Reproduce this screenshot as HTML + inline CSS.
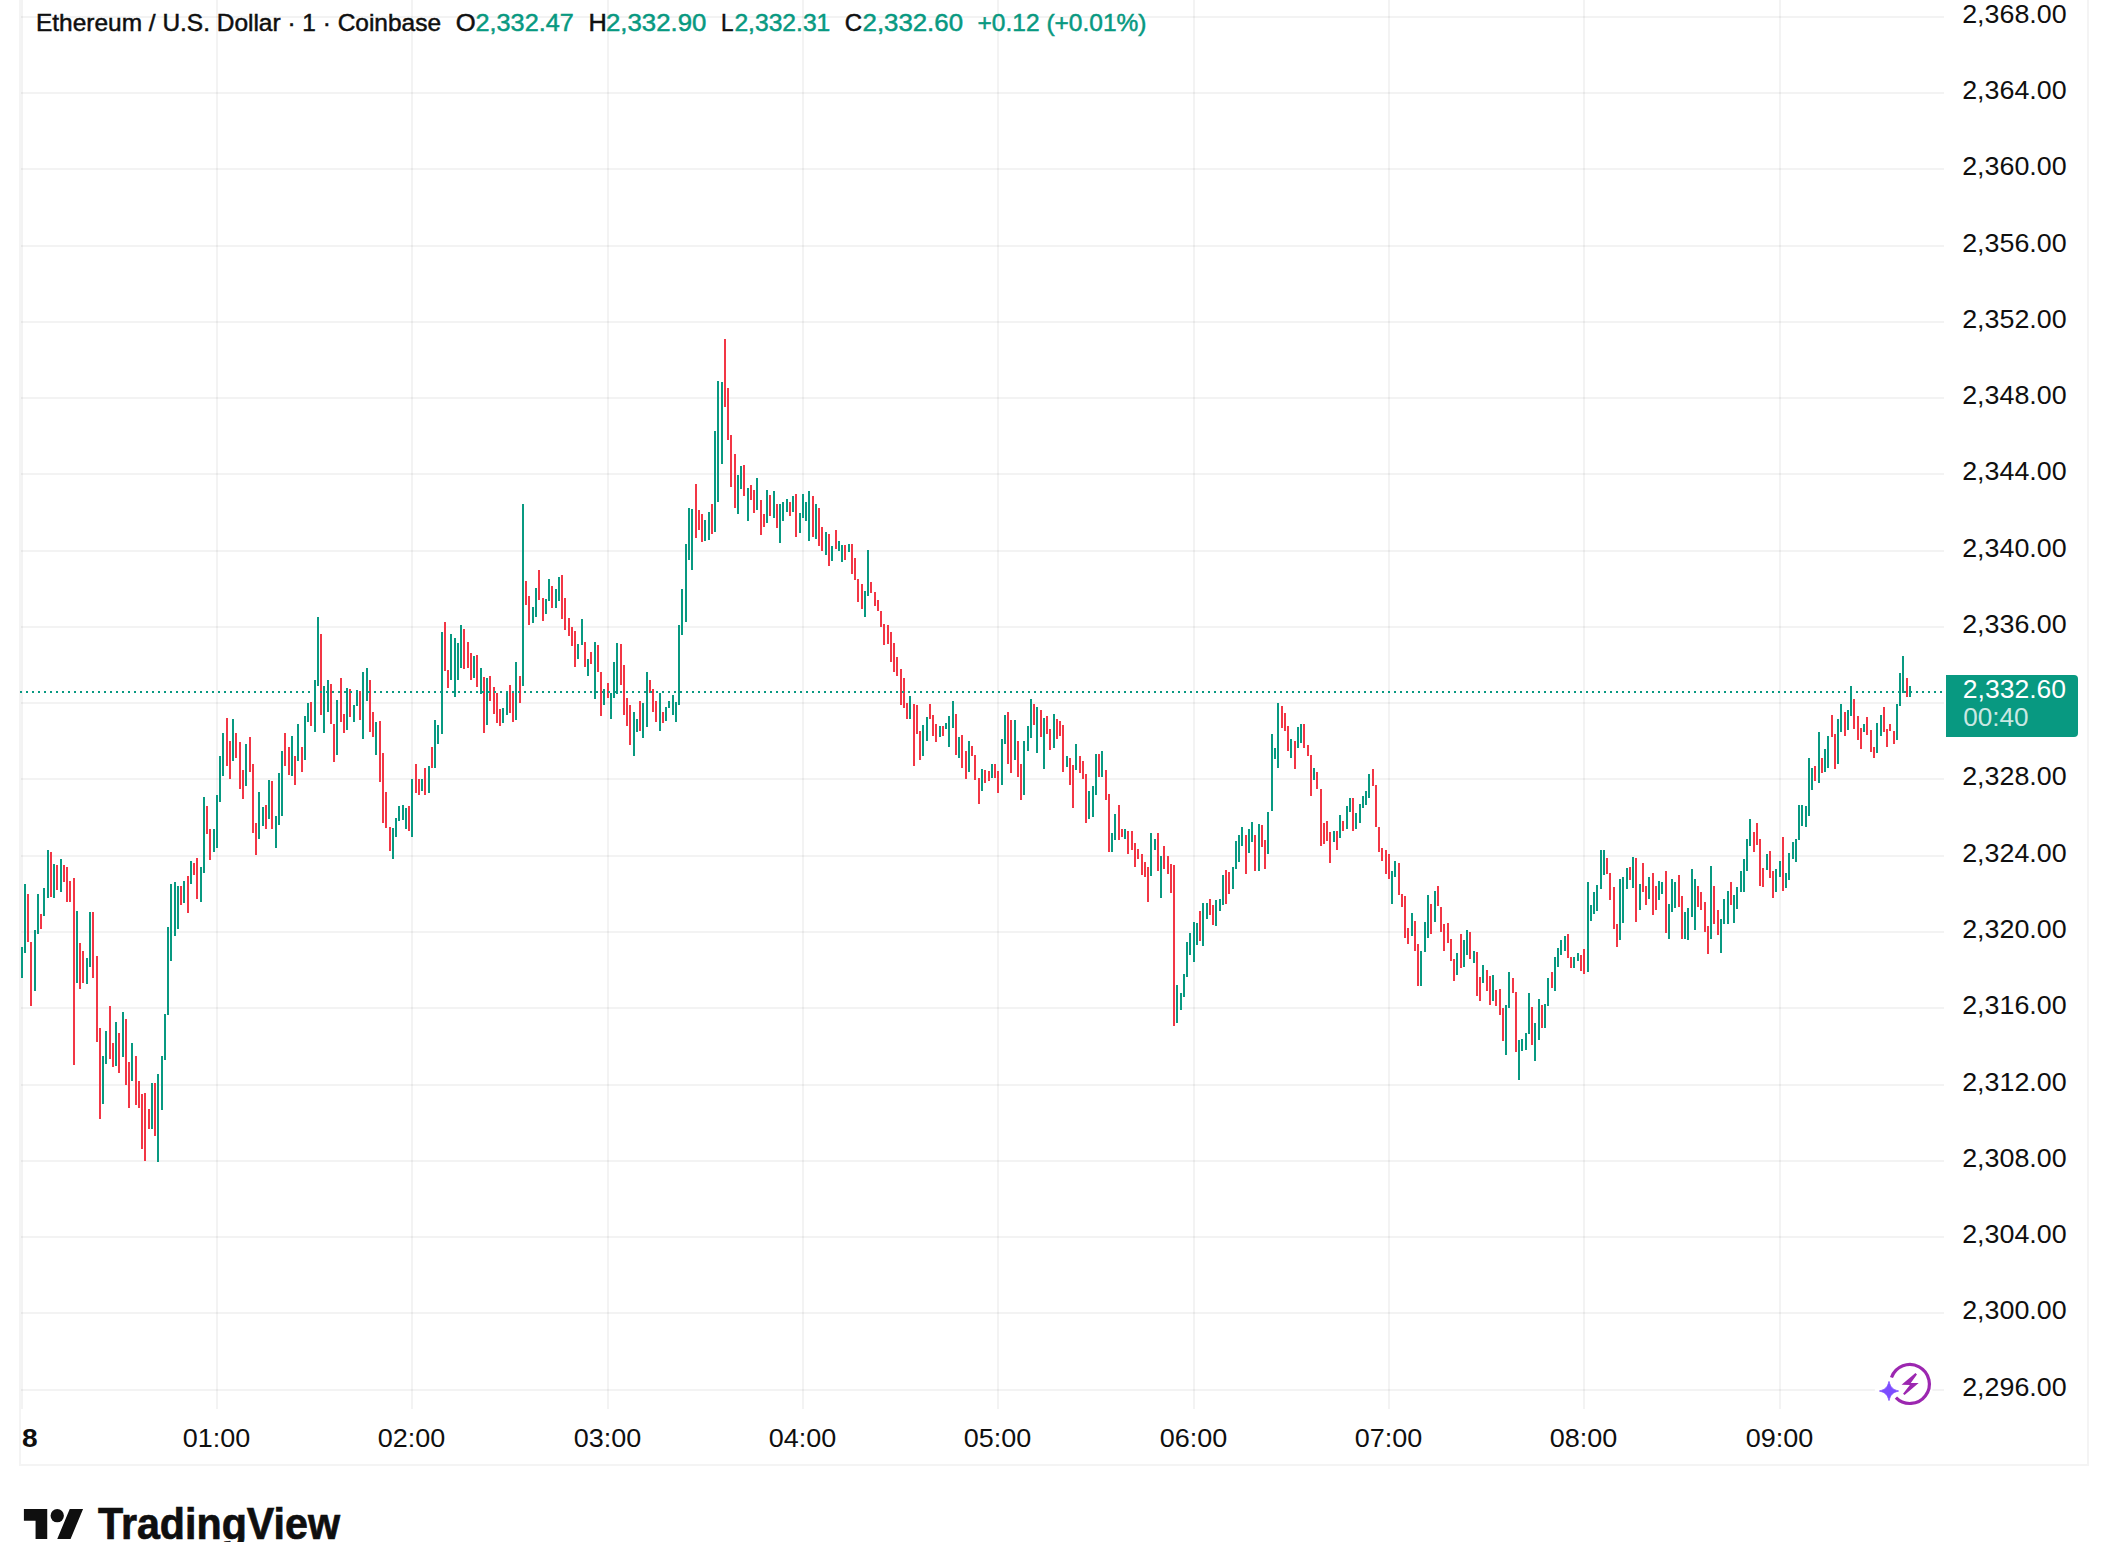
<!DOCTYPE html><html><head><meta charset="utf-8"><title>ETHUSD</title><style>html,body{margin:0;padding:0;background:#fff;width:2108px;height:1542px;overflow:hidden}</style></head><body><svg width="2108" height="1542" viewBox="0 0 2108 1542" style="display:block;position:absolute;left:0;top:0">
<rect width="2108" height="1542" fill="#fff"/>
<g fill="#2e2e2e" fill-opacity="0.06"><rect x="21" y="0" width="2" height="1409"/><rect x="216" y="0" width="2" height="1409"/><rect x="411" y="0" width="2" height="1409"/><rect x="607" y="0" width="2" height="1409"/><rect x="802" y="0" width="2" height="1409"/><rect x="997" y="0" width="2" height="1409"/><rect x="1193" y="0" width="2" height="1409"/><rect x="1388" y="0" width="2" height="1409"/><rect x="1583" y="0" width="2" height="1409"/><rect x="1779" y="0" width="2" height="1409"/><rect x="20" y="16" width="1924" height="2"/><rect x="20" y="92" width="1924" height="2"/><rect x="20" y="168" width="1924" height="2"/><rect x="20" y="245" width="1924" height="2"/><rect x="20" y="321" width="1924" height="2"/><rect x="20" y="397" width="1924" height="2"/><rect x="20" y="473" width="1924" height="2"/><rect x="20" y="550" width="1924" height="2"/><rect x="20" y="626" width="1924" height="2"/><rect x="20" y="702" width="1924" height="2"/><rect x="20" y="778" width="1924" height="2"/><rect x="20" y="855" width="1924" height="2"/><rect x="20" y="931" width="1924" height="2"/><rect x="20" y="1007" width="1924" height="2"/><rect x="20" y="1084" width="1924" height="2"/><rect x="20" y="1160" width="1924" height="2"/><rect x="20" y="1236" width="1924" height="2"/><rect x="20" y="1312" width="1924" height="2"/><rect x="20" y="1389" width="1924" height="2"/></g>
<g fill="#f4f4f4"><rect x="19" y="0" width="2" height="1466"/><rect x="2087" y="0" width="2" height="1466"/><rect x="19" y="1464" width="2070" height="2"/></g>
<g fill="#089981"><rect x="21" y="947" width="2" height="31"/><rect x="24" y="884" width="2" height="69"/><rect x="34" y="930" width="2" height="61"/><rect x="37" y="894" width="2" height="40"/><rect x="43" y="888" width="2" height="28"/><rect x="47" y="850" width="2" height="48"/><rect x="53" y="864" width="2" height="34"/><rect x="60" y="859" width="2" height="33"/><rect x="76" y="911" width="2" height="72"/><rect x="86" y="958" width="2" height="26"/><rect x="89" y="912" width="2" height="55"/><rect x="102" y="1056" width="2" height="48"/><rect x="105" y="1031" width="2" height="33"/><rect x="115" y="1022" width="2" height="44"/><rect x="122" y="1012" width="2" height="45"/><rect x="131" y="1043" width="2" height="38"/><rect x="151" y="1083" width="2" height="46"/><rect x="157" y="1074" width="2" height="88"/><rect x="161" y="1056" width="2" height="54"/><rect x="164" y="1014" width="2" height="46"/><rect x="167" y="927" width="2" height="88"/><rect x="170" y="884" width="2" height="77"/><rect x="174" y="882" width="2" height="54"/><rect x="177" y="886" width="2" height="43"/><rect x="183" y="881" width="2" height="22"/><rect x="190" y="861" width="2" height="23"/><rect x="200" y="867" width="2" height="35"/><rect x="203" y="797" width="2" height="76"/><rect x="213" y="829" width="2" height="23"/><rect x="216" y="795" width="2" height="53"/><rect x="219" y="756" width="2" height="46"/><rect x="222" y="733" width="2" height="43"/><rect x="232" y="719" width="2" height="42"/><rect x="245" y="744" width="2" height="42"/><rect x="258" y="792" width="2" height="47"/><rect x="262" y="807" width="2" height="19"/><rect x="268" y="780" width="2" height="39"/><rect x="275" y="816" width="2" height="32"/><rect x="278" y="773" width="2" height="52"/><rect x="281" y="751" width="2" height="65"/><rect x="291" y="736" width="2" height="40"/><rect x="297" y="724" width="2" height="37"/><rect x="304" y="716" width="2" height="44"/><rect x="307" y="703" width="2" height="19"/><rect x="314" y="680" width="2" height="52"/><rect x="317" y="617" width="2" height="69"/><rect x="323" y="686" width="2" height="47"/><rect x="327" y="680" width="2" height="32"/><rect x="336" y="700" width="2" height="55"/><rect x="346" y="688" width="2" height="42"/><rect x="353" y="705" width="2" height="17"/><rect x="356" y="690" width="2" height="16"/><rect x="362" y="672" width="2" height="67"/><rect x="366" y="668" width="2" height="33"/><rect x="375" y="722" width="2" height="33"/><rect x="392" y="828" width="2" height="31"/><rect x="395" y="818" width="2" height="19"/><rect x="398" y="806" width="2" height="15"/><rect x="402" y="805" width="2" height="15"/><rect x="405" y="808" width="2" height="21"/><rect x="411" y="779" width="2" height="58"/><rect x="421" y="779" width="2" height="12"/><rect x="428" y="766" width="2" height="27"/><rect x="434" y="720" width="2" height="48"/><rect x="437" y="725" width="2" height="19"/><rect x="441" y="632" width="2" height="102"/><rect x="450" y="634" width="2" height="46"/><rect x="454" y="638" width="2" height="59"/><rect x="457" y="643" width="2" height="37"/><rect x="460" y="625" width="2" height="43"/><rect x="473" y="656" width="2" height="22"/><rect x="480" y="668" width="2" height="26"/><rect x="486" y="678" width="2" height="47"/><rect x="502" y="708" width="2" height="15"/><rect x="506" y="691" width="2" height="24"/><rect x="515" y="662" width="2" height="58"/><rect x="522" y="504" width="2" height="182"/><rect x="532" y="607" width="2" height="16"/><rect x="535" y="588" width="2" height="29"/><rect x="545" y="599" width="2" height="15"/><rect x="548" y="579" width="2" height="22"/><rect x="555" y="589" width="2" height="19"/><rect x="558" y="577" width="2" height="24"/><rect x="577" y="644" width="2" height="15"/><rect x="581" y="619" width="2" height="26"/><rect x="587" y="659" width="2" height="17"/><rect x="594" y="642" width="2" height="57"/><rect x="603" y="689" width="2" height="16"/><rect x="610" y="693" width="2" height="26"/><rect x="613" y="662" width="2" height="36"/><rect x="616" y="643" width="2" height="51"/><rect x="633" y="712" width="2" height="44"/><rect x="636" y="719" width="2" height="13"/><rect x="642" y="703" width="2" height="35"/><rect x="646" y="672" width="2" height="55"/><rect x="659" y="693" width="2" height="38"/><rect x="665" y="707" width="2" height="14"/><rect x="668" y="701" width="2" height="7"/><rect x="672" y="695" width="2" height="20"/><rect x="675" y="702" width="2" height="20"/><rect x="678" y="625" width="2" height="80"/><rect x="681" y="589" width="2" height="46"/><rect x="685" y="544" width="2" height="78"/><rect x="688" y="508" width="2" height="52"/><rect x="691" y="509" width="2" height="61"/><rect x="704" y="520" width="2" height="21"/><rect x="708" y="512" width="2" height="28"/><rect x="714" y="431" width="2" height="101"/><rect x="717" y="381" width="2" height="121"/><rect x="721" y="382" width="2" height="82"/><rect x="737" y="475" width="2" height="39"/><rect x="740" y="466" width="2" height="23"/><rect x="747" y="488" width="2" height="33"/><rect x="756" y="478" width="2" height="32"/><rect x="766" y="490" width="2" height="33"/><rect x="773" y="491" width="2" height="27"/><rect x="779" y="504" width="2" height="39"/><rect x="782" y="502" width="2" height="19"/><rect x="786" y="499" width="2" height="13"/><rect x="792" y="496" width="2" height="16"/><rect x="799" y="513" width="2" height="20"/><rect x="802" y="494" width="2" height="24"/><rect x="805" y="502" width="2" height="19"/><rect x="808" y="491" width="2" height="50"/><rect x="815" y="504" width="2" height="35"/><rect x="825" y="532" width="2" height="23"/><rect x="831" y="546" width="2" height="15"/><rect x="838" y="541" width="2" height="10"/><rect x="841" y="545" width="2" height="17"/><rect x="848" y="544" width="2" height="8"/><rect x="864" y="591" width="2" height="26"/><rect x="867" y="550" width="2" height="46"/><rect x="909" y="696" width="2" height="23"/><rect x="922" y="725" width="2" height="31"/><rect x="926" y="717" width="2" height="24"/><rect x="939" y="726" width="2" height="11"/><rect x="945" y="723" width="2" height="6"/><rect x="948" y="716" width="2" height="31"/><rect x="952" y="701" width="2" height="27"/><rect x="958" y="737" width="2" height="21"/><rect x="968" y="741" width="2" height="31"/><rect x="981" y="769" width="2" height="22"/><rect x="991" y="764" width="2" height="14"/><rect x="1001" y="739" width="2" height="46"/><rect x="1004" y="715" width="2" height="29"/><rect x="1014" y="720" width="2" height="40"/><rect x="1023" y="741" width="2" height="54"/><rect x="1027" y="726" width="2" height="25"/><rect x="1030" y="699" width="2" height="39"/><rect x="1036" y="707" width="2" height="46"/><rect x="1043" y="718" width="2" height="51"/><rect x="1053" y="714" width="2" height="34"/><rect x="1066" y="756" width="2" height="11"/><rect x="1075" y="744" width="2" height="26"/><rect x="1088" y="791" width="2" height="28"/><rect x="1092" y="786" width="2" height="31"/><rect x="1095" y="754" width="2" height="41"/><rect x="1101" y="751" width="2" height="26"/><rect x="1111" y="833" width="2" height="19"/><rect x="1114" y="814" width="2" height="26"/><rect x="1124" y="829" width="2" height="10"/><rect x="1150" y="833" width="2" height="43"/><rect x="1154" y="839" width="2" height="11"/><rect x="1160" y="856" width="2" height="42"/><rect x="1176" y="985" width="2" height="38"/><rect x="1180" y="993" width="2" height="17"/><rect x="1183" y="974" width="2" height="23"/><rect x="1186" y="942" width="2" height="35"/><rect x="1189" y="933" width="2" height="22"/><rect x="1193" y="922" width="2" height="40"/><rect x="1196" y="923" width="2" height="22"/><rect x="1202" y="903" width="2" height="43"/><rect x="1206" y="903" width="2" height="16"/><rect x="1215" y="900" width="2" height="26"/><rect x="1219" y="899" width="2" height="12"/><rect x="1222" y="875" width="2" height="30"/><rect x="1232" y="867" width="2" height="22"/><rect x="1235" y="841" width="2" height="28"/><rect x="1238" y="835" width="2" height="27"/><rect x="1241" y="827" width="2" height="19"/><rect x="1248" y="829" width="2" height="24"/><rect x="1251" y="822" width="2" height="20"/><rect x="1258" y="824" width="2" height="47"/><rect x="1267" y="812" width="2" height="42"/><rect x="1271" y="734" width="2" height="77"/><rect x="1274" y="748" width="2" height="11"/><rect x="1277" y="703" width="2" height="65"/><rect x="1290" y="739" width="2" height="19"/><rect x="1297" y="727" width="2" height="21"/><rect x="1300" y="724" width="2" height="19"/><rect x="1313" y="768" width="2" height="12"/><rect x="1333" y="831" width="2" height="11"/><rect x="1339" y="815" width="2" height="23"/><rect x="1346" y="806" width="2" height="23"/><rect x="1349" y="798" width="2" height="14"/><rect x="1355" y="813" width="2" height="16"/><rect x="1359" y="804" width="2" height="19"/><rect x="1362" y="796" width="2" height="12"/><rect x="1365" y="791" width="2" height="14"/><rect x="1368" y="774" width="2" height="24"/><rect x="1391" y="871" width="2" height="33"/><rect x="1394" y="861" width="2" height="16"/><rect x="1411" y="913" width="2" height="23"/><rect x="1420" y="951" width="2" height="35"/><rect x="1424" y="922" width="2" height="30"/><rect x="1427" y="895" width="2" height="43"/><rect x="1434" y="891" width="2" height="31"/><rect x="1456" y="953" width="2" height="22"/><rect x="1463" y="940" width="2" height="27"/><rect x="1466" y="930" width="2" height="25"/><rect x="1473" y="951" width="2" height="12"/><rect x="1482" y="965" width="2" height="18"/><rect x="1492" y="975" width="2" height="26"/><rect x="1505" y="1005" width="2" height="50"/><rect x="1508" y="972" width="2" height="36"/><rect x="1518" y="1040" width="2" height="40"/><rect x="1521" y="1039" width="2" height="12"/><rect x="1525" y="1033" width="2" height="17"/><rect x="1528" y="993" width="2" height="41"/><rect x="1534" y="1023" width="2" height="38"/><rect x="1538" y="999" width="2" height="41"/><rect x="1544" y="1004" width="2" height="24"/><rect x="1547" y="978" width="2" height="28"/><rect x="1554" y="957" width="2" height="34"/><rect x="1557" y="948" width="2" height="19"/><rect x="1560" y="940" width="2" height="15"/><rect x="1564" y="936" width="2" height="15"/><rect x="1573" y="957" width="2" height="11"/><rect x="1577" y="953" width="2" height="8"/><rect x="1587" y="882" width="2" height="90"/><rect x="1590" y="905" width="2" height="16"/><rect x="1593" y="892" width="2" height="22"/><rect x="1596" y="885" width="2" height="26"/><rect x="1600" y="850" width="2" height="39"/><rect x="1603" y="850" width="2" height="25"/><rect x="1619" y="879" width="2" height="61"/><rect x="1622" y="877" width="2" height="46"/><rect x="1626" y="868" width="2" height="21"/><rect x="1632" y="857" width="2" height="31"/><rect x="1639" y="884" width="2" height="26"/><rect x="1648" y="877" width="2" height="22"/><rect x="1658" y="881" width="2" height="19"/><rect x="1661" y="882" width="2" height="12"/><rect x="1668" y="904" width="2" height="35"/><rect x="1671" y="879" width="2" height="33"/><rect x="1674" y="882" width="2" height="26"/><rect x="1684" y="912" width="2" height="27"/><rect x="1687" y="908" width="2" height="32"/><rect x="1691" y="869" width="2" height="48"/><rect x="1694" y="879" width="2" height="51"/><rect x="1710" y="866" width="2" height="73"/><rect x="1720" y="919" width="2" height="34"/><rect x="1723" y="899" width="2" height="25"/><rect x="1727" y="891" width="2" height="33"/><rect x="1733" y="895" width="2" height="28"/><rect x="1736" y="887" width="2" height="22"/><rect x="1740" y="871" width="2" height="21"/><rect x="1743" y="859" width="2" height="33"/><rect x="1746" y="839" width="2" height="32"/><rect x="1749" y="819" width="2" height="27"/><rect x="1766" y="854" width="2" height="16"/><rect x="1775" y="869" width="2" height="23"/><rect x="1779" y="861" width="2" height="16"/><rect x="1785" y="873" width="2" height="15"/><rect x="1788" y="853" width="2" height="27"/><rect x="1792" y="842" width="2" height="17"/><rect x="1795" y="839" width="2" height="23"/><rect x="1798" y="805" width="2" height="35"/><rect x="1801" y="805" width="2" height="21"/><rect x="1805" y="806" width="2" height="21"/><rect x="1808" y="758" width="2" height="58"/><rect x="1811" y="768" width="2" height="22"/><rect x="1818" y="732" width="2" height="51"/><rect x="1824" y="749" width="2" height="23"/><rect x="1827" y="736" width="2" height="32"/><rect x="1837" y="719" width="2" height="45"/><rect x="1840" y="704" width="2" height="28"/><rect x="1847" y="710" width="2" height="20"/><rect x="1850" y="686" width="2" height="30"/><rect x="1863" y="724" width="2" height="8"/><rect x="1876" y="723" width="2" height="30"/><rect x="1880" y="715" width="2" height="21"/><rect x="1896" y="704" width="2" height="36"/><rect x="1899" y="673" width="2" height="33"/><rect x="1902" y="656" width="2" height="37"/><rect x="1909" y="686" width="2" height="11"/></g>
<g fill="#F23645"><rect x="27" y="894" width="2" height="48"/><rect x="30" y="942" width="2" height="64"/><rect x="40" y="914" width="2" height="15"/><rect x="50" y="852" width="2" height="45"/><rect x="56" y="865" width="2" height="25"/><rect x="63" y="865" width="2" height="17"/><rect x="66" y="867" width="2" height="35"/><rect x="69" y="881" width="2" height="21"/><rect x="73" y="878" width="2" height="187"/><rect x="79" y="943" width="2" height="46"/><rect x="82" y="951" width="2" height="32"/><rect x="92" y="912" width="2" height="66"/><rect x="96" y="956" width="2" height="86"/><rect x="99" y="1028" width="2" height="91"/><rect x="109" y="1006" width="2" height="53"/><rect x="112" y="1043" width="2" height="24"/><rect x="118" y="1033" width="2" height="40"/><rect x="125" y="1019" width="2" height="66"/><rect x="128" y="1062" width="2" height="46"/><rect x="135" y="1056" width="2" height="49"/><rect x="138" y="1081" width="2" height="27"/><rect x="141" y="1094" width="2" height="55"/><rect x="144" y="1093" width="2" height="68"/><rect x="148" y="1109" width="2" height="20"/><rect x="154" y="1083" width="2" height="53"/><rect x="180" y="886" width="2" height="19"/><rect x="187" y="876" width="2" height="37"/><rect x="193" y="863" width="2" height="12"/><rect x="196" y="858" width="2" height="41"/><rect x="206" y="806" width="2" height="28"/><rect x="209" y="829" width="2" height="31"/><rect x="226" y="718" width="2" height="48"/><rect x="229" y="741" width="2" height="38"/><rect x="235" y="733" width="2" height="25"/><rect x="239" y="742" width="2" height="47"/><rect x="242" y="770" width="2" height="29"/><rect x="249" y="737" width="2" height="35"/><rect x="252" y="764" width="2" height="69"/><rect x="255" y="823" width="2" height="32"/><rect x="265" y="805" width="2" height="24"/><rect x="271" y="781" width="2" height="48"/><rect x="284" y="733" width="2" height="33"/><rect x="288" y="747" width="2" height="28"/><rect x="294" y="756" width="2" height="29"/><rect x="301" y="747" width="2" height="25"/><rect x="310" y="702" width="2" height="24"/><rect x="320" y="634" width="2" height="81"/><rect x="330" y="684" width="2" height="40"/><rect x="333" y="724" width="2" height="38"/><rect x="340" y="678" width="2" height="44"/><rect x="343" y="714" width="2" height="19"/><rect x="349" y="689" width="2" height="28"/><rect x="359" y="691" width="2" height="29"/><rect x="369" y="680" width="2" height="52"/><rect x="372" y="712" width="2" height="25"/><rect x="379" y="721" width="2" height="61"/><rect x="382" y="753" width="2" height="70"/><rect x="385" y="792" width="2" height="36"/><rect x="389" y="827" width="2" height="24"/><rect x="408" y="806" width="2" height="25"/><rect x="415" y="764" width="2" height="29"/><rect x="418" y="779" width="2" height="16"/><rect x="424" y="768" width="2" height="27"/><rect x="431" y="747" width="2" height="21"/><rect x="444" y="622" width="2" height="49"/><rect x="447" y="670" width="2" height="18"/><rect x="463" y="629" width="2" height="40"/><rect x="467" y="642" width="2" height="26"/><rect x="470" y="653" width="2" height="27"/><rect x="476" y="655" width="2" height="32"/><rect x="483" y="677" width="2" height="56"/><rect x="489" y="676" width="2" height="25"/><rect x="493" y="687" width="2" height="27"/><rect x="496" y="693" width="2" height="30"/><rect x="499" y="709" width="2" height="17"/><rect x="509" y="685" width="2" height="28"/><rect x="512" y="691" width="2" height="31"/><rect x="519" y="676" width="2" height="27"/><rect x="525" y="581" width="2" height="24"/><rect x="528" y="596" width="2" height="29"/><rect x="538" y="570" width="2" height="30"/><rect x="542" y="598" width="2" height="23"/><rect x="551" y="586" width="2" height="22"/><rect x="561" y="575" width="2" height="44"/><rect x="564" y="598" width="2" height="32"/><rect x="568" y="618" width="2" height="18"/><rect x="571" y="627" width="2" height="19"/><rect x="574" y="631" width="2" height="36"/><rect x="584" y="642" width="2" height="25"/><rect x="590" y="652" width="2" height="12"/><rect x="597" y="645" width="2" height="27"/><rect x="600" y="672" width="2" height="44"/><rect x="607" y="683" width="2" height="15"/><rect x="620" y="644" width="2" height="41"/><rect x="623" y="665" width="2" height="50"/><rect x="626" y="698" width="2" height="28"/><rect x="629" y="705" width="2" height="40"/><rect x="639" y="701" width="2" height="30"/><rect x="649" y="680" width="2" height="13"/><rect x="652" y="689" width="2" height="23"/><rect x="655" y="701" width="2" height="21"/><rect x="662" y="712" width="2" height="11"/><rect x="695" y="484" width="2" height="54"/><rect x="698" y="510" width="2" height="20"/><rect x="701" y="514" width="2" height="28"/><rect x="711" y="504" width="2" height="30"/><rect x="724" y="339" width="2" height="68"/><rect x="727" y="388" width="2" height="52"/><rect x="730" y="435" width="2" height="52"/><rect x="734" y="454" width="2" height="54"/><rect x="743" y="465" width="2" height="31"/><rect x="750" y="485" width="2" height="15"/><rect x="753" y="490" width="2" height="23"/><rect x="760" y="500" width="2" height="35"/><rect x="763" y="514" width="2" height="13"/><rect x="769" y="495" width="2" height="21"/><rect x="776" y="504" width="2" height="24"/><rect x="789" y="502" width="2" height="14"/><rect x="795" y="494" width="2" height="43"/><rect x="812" y="496" width="2" height="41"/><rect x="818" y="508" width="2" height="38"/><rect x="821" y="527" width="2" height="24"/><rect x="828" y="534" width="2" height="32"/><rect x="835" y="530" width="2" height="19"/><rect x="844" y="545" width="2" height="15"/><rect x="851" y="544" width="2" height="30"/><rect x="854" y="558" width="2" height="22"/><rect x="857" y="579" width="2" height="23"/><rect x="861" y="584" width="2" height="25"/><rect x="870" y="582" width="2" height="11"/><rect x="874" y="592" width="2" height="14"/><rect x="877" y="600" width="2" height="11"/><rect x="880" y="611" width="2" height="16"/><rect x="883" y="624" width="2" height="21"/><rect x="887" y="625" width="2" height="19"/><rect x="890" y="632" width="2" height="30"/><rect x="893" y="643" width="2" height="29"/><rect x="896" y="657" width="2" height="19"/><rect x="900" y="669" width="2" height="36"/><rect x="903" y="678" width="2" height="30"/><rect x="906" y="703" width="2" height="16"/><rect x="913" y="704" width="2" height="62"/><rect x="916" y="705" width="2" height="29"/><rect x="919" y="731" width="2" height="29"/><rect x="929" y="704" width="2" height="15"/><rect x="932" y="715" width="2" height="21"/><rect x="935" y="724" width="2" height="18"/><rect x="942" y="726" width="2" height="10"/><rect x="955" y="714" width="2" height="41"/><rect x="961" y="735" width="2" height="33"/><rect x="965" y="751" width="2" height="28"/><rect x="971" y="746" width="2" height="10"/><rect x="974" y="755" width="2" height="25"/><rect x="978" y="778" width="2" height="26"/><rect x="984" y="770" width="2" height="13"/><rect x="988" y="771" width="2" height="10"/><rect x="994" y="764" width="2" height="14"/><rect x="997" y="771" width="2" height="22"/><rect x="1007" y="712" width="2" height="52"/><rect x="1010" y="720" width="2" height="53"/><rect x="1017" y="741" width="2" height="36"/><rect x="1020" y="764" width="2" height="36"/><rect x="1033" y="704" width="2" height="21"/><rect x="1040" y="710" width="2" height="27"/><rect x="1046" y="716" width="2" height="18"/><rect x="1049" y="729" width="2" height="21"/><rect x="1056" y="719" width="2" height="20"/><rect x="1059" y="721" width="2" height="15"/><rect x="1062" y="725" width="2" height="47"/><rect x="1069" y="758" width="2" height="27"/><rect x="1072" y="765" width="2" height="43"/><rect x="1079" y="756" width="2" height="17"/><rect x="1082" y="761" width="2" height="18"/><rect x="1085" y="774" width="2" height="49"/><rect x="1098" y="754" width="2" height="23"/><rect x="1105" y="770" width="2" height="30"/><rect x="1108" y="794" width="2" height="58"/><rect x="1118" y="805" width="2" height="35"/><rect x="1121" y="829" width="2" height="8"/><rect x="1127" y="831" width="2" height="23"/><rect x="1131" y="831" width="2" height="19"/><rect x="1134" y="843" width="2" height="24"/><rect x="1137" y="849" width="2" height="10"/><rect x="1141" y="854" width="2" height="21"/><rect x="1144" y="862" width="2" height="15"/><rect x="1147" y="867" width="2" height="35"/><rect x="1157" y="833" width="2" height="38"/><rect x="1163" y="846" width="2" height="23"/><rect x="1167" y="856" width="2" height="18"/><rect x="1170" y="864" width="2" height="29"/><rect x="1173" y="865" width="2" height="161"/><rect x="1199" y="911" width="2" height="30"/><rect x="1209" y="899" width="2" height="16"/><rect x="1212" y="905" width="2" height="20"/><rect x="1225" y="870" width="2" height="34"/><rect x="1228" y="872" width="2" height="22"/><rect x="1245" y="835" width="2" height="39"/><rect x="1254" y="835" width="2" height="36"/><rect x="1261" y="825" width="2" height="22"/><rect x="1264" y="840" width="2" height="29"/><rect x="1281" y="706" width="2" height="22"/><rect x="1284" y="713" width="2" height="18"/><rect x="1287" y="726" width="2" height="25"/><rect x="1294" y="741" width="2" height="28"/><rect x="1303" y="724" width="2" height="24"/><rect x="1307" y="745" width="2" height="11"/><rect x="1310" y="755" width="2" height="41"/><rect x="1316" y="772" width="2" height="17"/><rect x="1320" y="789" width="2" height="57"/><rect x="1323" y="823" width="2" height="21"/><rect x="1326" y="821" width="2" height="20"/><rect x="1329" y="832" width="2" height="31"/><rect x="1336" y="831" width="2" height="19"/><rect x="1342" y="821" width="2" height="10"/><rect x="1352" y="798" width="2" height="33"/><rect x="1372" y="769" width="2" height="17"/><rect x="1375" y="785" width="2" height="42"/><rect x="1378" y="827" width="2" height="25"/><rect x="1381" y="848" width="2" height="13"/><rect x="1385" y="850" width="2" height="24"/><rect x="1388" y="854" width="2" height="25"/><rect x="1398" y="863" width="2" height="32"/><rect x="1401" y="894" width="2" height="13"/><rect x="1404" y="896" width="2" height="42"/><rect x="1407" y="928" width="2" height="16"/><rect x="1414" y="921" width="2" height="30"/><rect x="1417" y="944" width="2" height="42"/><rect x="1430" y="904" width="2" height="30"/><rect x="1437" y="886" width="2" height="20"/><rect x="1440" y="907" width="2" height="25"/><rect x="1443" y="924" width="2" height="27"/><rect x="1447" y="923" width="2" height="20"/><rect x="1450" y="939" width="2" height="22"/><rect x="1453" y="959" width="2" height="22"/><rect x="1460" y="934" width="2" height="34"/><rect x="1469" y="932" width="2" height="27"/><rect x="1476" y="952" width="2" height="44"/><rect x="1479" y="977" width="2" height="24"/><rect x="1486" y="970" width="2" height="21"/><rect x="1489" y="976" width="2" height="29"/><rect x="1495" y="990" width="2" height="16"/><rect x="1499" y="989" width="2" height="26"/><rect x="1502" y="1008" width="2" height="33"/><rect x="1512" y="978" width="2" height="15"/><rect x="1515" y="992" width="2" height="60"/><rect x="1531" y="1007" width="2" height="38"/><rect x="1541" y="1005" width="2" height="23"/><rect x="1551" y="972" width="2" height="16"/><rect x="1567" y="934" width="2" height="24"/><rect x="1570" y="957" width="2" height="11"/><rect x="1580" y="955" width="2" height="16"/><rect x="1583" y="949" width="2" height="25"/><rect x="1606" y="858" width="2" height="16"/><rect x="1609" y="873" width="2" height="27"/><rect x="1613" y="887" width="2" height="42"/><rect x="1616" y="924" width="2" height="23"/><rect x="1629" y="867" width="2" height="13"/><rect x="1635" y="858" width="2" height="64"/><rect x="1642" y="863" width="2" height="29"/><rect x="1645" y="886" width="2" height="19"/><rect x="1652" y="873" width="2" height="42"/><rect x="1655" y="886" width="2" height="24"/><rect x="1665" y="871" width="2" height="62"/><rect x="1678" y="875" width="2" height="32"/><rect x="1681" y="896" width="2" height="43"/><rect x="1697" y="886" width="2" height="21"/><rect x="1700" y="892" width="2" height="18"/><rect x="1704" y="902" width="2" height="30"/><rect x="1707" y="926" width="2" height="28"/><rect x="1713" y="886" width="2" height="38"/><rect x="1717" y="910" width="2" height="25"/><rect x="1730" y="882" width="2" height="23"/><rect x="1753" y="832" width="2" height="20"/><rect x="1756" y="823" width="2" height="22"/><rect x="1759" y="839" width="2" height="47"/><rect x="1762" y="868" width="2" height="19"/><rect x="1769" y="851" width="2" height="27"/><rect x="1772" y="871" width="2" height="27"/><rect x="1782" y="837" width="2" height="54"/><rect x="1814" y="766" width="2" height="15"/><rect x="1821" y="758" width="2" height="15"/><rect x="1831" y="715" width="2" height="22"/><rect x="1834" y="734" width="2" height="35"/><rect x="1844" y="712" width="2" height="24"/><rect x="1853" y="699" width="2" height="30"/><rect x="1857" y="716" width="2" height="24"/><rect x="1860" y="728" width="2" height="21"/><rect x="1866" y="717" width="2" height="18"/><rect x="1870" y="730" width="2" height="22"/><rect x="1873" y="747" width="2" height="11"/><rect x="1883" y="707" width="2" height="25"/><rect x="1886" y="729" width="2" height="18"/><rect x="1889" y="724" width="2" height="7"/><rect x="1893" y="731" width="2" height="13"/><rect x="1906" y="678" width="2" height="19"/></g>
<line x1="20" y1="692" x2="1946" y2="692" stroke="#089981" stroke-width="2" stroke-dasharray="2 4"/>
<text x="1962.18" y="23.0" font-family="Liberation Sans, Arial, sans-serif" font-size="25.5" fill="#0f0f0f" textLength="104.44" lengthAdjust="spacingAndGlyphs">2,368.00</text>
<text x="1962.18" y="99.0" font-family="Liberation Sans, Arial, sans-serif" font-size="25.5" fill="#0f0f0f" textLength="104.44" lengthAdjust="spacingAndGlyphs">2,364.00</text>
<text x="1962.18" y="175.0" font-family="Liberation Sans, Arial, sans-serif" font-size="25.5" fill="#0f0f0f" textLength="104.44" lengthAdjust="spacingAndGlyphs">2,360.00</text>
<text x="1962.18" y="252.0" font-family="Liberation Sans, Arial, sans-serif" font-size="25.5" fill="#0f0f0f" textLength="104.44" lengthAdjust="spacingAndGlyphs">2,356.00</text>
<text x="1962.18" y="328.0" font-family="Liberation Sans, Arial, sans-serif" font-size="25.5" fill="#0f0f0f" textLength="104.44" lengthAdjust="spacingAndGlyphs">2,352.00</text>
<text x="1962.18" y="404.0" font-family="Liberation Sans, Arial, sans-serif" font-size="25.5" fill="#0f0f0f" textLength="104.44" lengthAdjust="spacingAndGlyphs">2,348.00</text>
<text x="1962.18" y="480.0" font-family="Liberation Sans, Arial, sans-serif" font-size="25.5" fill="#0f0f0f" textLength="104.44" lengthAdjust="spacingAndGlyphs">2,344.00</text>
<text x="1962.18" y="557.0" font-family="Liberation Sans, Arial, sans-serif" font-size="25.5" fill="#0f0f0f" textLength="104.44" lengthAdjust="spacingAndGlyphs">2,340.00</text>
<text x="1962.18" y="633.0" font-family="Liberation Sans, Arial, sans-serif" font-size="25.5" fill="#0f0f0f" textLength="104.44" lengthAdjust="spacingAndGlyphs">2,336.00</text>
<text x="1962.18" y="785.0" font-family="Liberation Sans, Arial, sans-serif" font-size="25.5" fill="#0f0f0f" textLength="104.44" lengthAdjust="spacingAndGlyphs">2,328.00</text>
<text x="1962.18" y="862.0" font-family="Liberation Sans, Arial, sans-serif" font-size="25.5" fill="#0f0f0f" textLength="104.44" lengthAdjust="spacingAndGlyphs">2,324.00</text>
<text x="1962.18" y="938.0" font-family="Liberation Sans, Arial, sans-serif" font-size="25.5" fill="#0f0f0f" textLength="104.44" lengthAdjust="spacingAndGlyphs">2,320.00</text>
<text x="1962.18" y="1014.0" font-family="Liberation Sans, Arial, sans-serif" font-size="25.5" fill="#0f0f0f" textLength="104.44" lengthAdjust="spacingAndGlyphs">2,316.00</text>
<text x="1962.18" y="1091.0" font-family="Liberation Sans, Arial, sans-serif" font-size="25.5" fill="#0f0f0f" textLength="104.44" lengthAdjust="spacingAndGlyphs">2,312.00</text>
<text x="1962.18" y="1167.0" font-family="Liberation Sans, Arial, sans-serif" font-size="25.5" fill="#0f0f0f" textLength="104.44" lengthAdjust="spacingAndGlyphs">2,308.00</text>
<text x="1962.18" y="1243.0" font-family="Liberation Sans, Arial, sans-serif" font-size="25.5" fill="#0f0f0f" textLength="104.44" lengthAdjust="spacingAndGlyphs">2,304.00</text>
<text x="1962.18" y="1319.0" font-family="Liberation Sans, Arial, sans-serif" font-size="25.5" fill="#0f0f0f" textLength="104.44" lengthAdjust="spacingAndGlyphs">2,300.00</text>
<text x="1962.18" y="1396.0" font-family="Liberation Sans, Arial, sans-serif" font-size="25.5" fill="#0f0f0f" textLength="104.44" lengthAdjust="spacingAndGlyphs">2,296.00</text>
<path d="M1946 675H2074a4 4 0 0 1 4 4V733a4 4 0 0 1 -4 4H1946Z" fill="#089981"/>
<text x="1962.77" y="698" font-family="Liberation Sans, Arial, sans-serif" font-size="25" fill="#fff" textLength="103.36" lengthAdjust="spacingAndGlyphs">2,332.60</text>
<text x="1963.16" y="726" font-family="Liberation Sans, Arial, sans-serif" font-size="25" fill="#fff" textLength="65.39" lengthAdjust="spacingAndGlyphs" fill-opacity="0.8">00:40</text>
<text x="21.99" y="1447.0" font-family="Liberation Sans, Arial, sans-serif" font-size="25.5" fill="#0f0f0f" textLength="15.63" lengthAdjust="spacingAndGlyphs" font-weight="bold">8</text>
<text x="182.75" y="1447.0" font-family="Liberation Sans, Arial, sans-serif" font-size="25.5" fill="#0f0f0f" textLength="67.49" lengthAdjust="spacingAndGlyphs">01:00</text>
<text x="377.75" y="1447.0" font-family="Liberation Sans, Arial, sans-serif" font-size="25.5" fill="#0f0f0f" textLength="67.49" lengthAdjust="spacingAndGlyphs">02:00</text>
<text x="573.75" y="1447.0" font-family="Liberation Sans, Arial, sans-serif" font-size="25.5" fill="#0f0f0f" textLength="67.49" lengthAdjust="spacingAndGlyphs">03:00</text>
<text x="768.75" y="1447.0" font-family="Liberation Sans, Arial, sans-serif" font-size="25.5" fill="#0f0f0f" textLength="67.49" lengthAdjust="spacingAndGlyphs">04:00</text>
<text x="963.75" y="1447.0" font-family="Liberation Sans, Arial, sans-serif" font-size="25.5" fill="#0f0f0f" textLength="67.49" lengthAdjust="spacingAndGlyphs">05:00</text>
<text x="1159.75" y="1447.0" font-family="Liberation Sans, Arial, sans-serif" font-size="25.5" fill="#0f0f0f" textLength="67.49" lengthAdjust="spacingAndGlyphs">06:00</text>
<text x="1354.75" y="1447.0" font-family="Liberation Sans, Arial, sans-serif" font-size="25.5" fill="#0f0f0f" textLength="67.49" lengthAdjust="spacingAndGlyphs">07:00</text>
<text x="1549.75" y="1447.0" font-family="Liberation Sans, Arial, sans-serif" font-size="25.5" fill="#0f0f0f" textLength="67.49" lengthAdjust="spacingAndGlyphs">08:00</text>
<text x="1745.75" y="1447.0" font-family="Liberation Sans, Arial, sans-serif" font-size="25.5" fill="#0f0f0f" textLength="67.49" lengthAdjust="spacingAndGlyphs">09:00</text>
<text x="36.0" y="30.9" font-family="Liberation Sans, Arial, sans-serif" font-size="24.5" fill="#0f0f0f" textLength="405.0" lengthAdjust="spacingAndGlyphs" stroke="#0f0f0f" stroke-width="0.5">Ethereum / U.S. Dollar · 1 · Coinbase</text>
<text x="455.86" y="30.9" font-family="Liberation Sans, Arial, sans-serif" font-size="24.5" fill="#0f0f0f" textLength="19.9" lengthAdjust="spacingAndGlyphs" stroke="#0f0f0f" stroke-width="0.5">O</text>
<text x="475.59" y="30.9" font-family="Liberation Sans, Arial, sans-serif" font-size="24.5" fill="#089981" textLength="98.13" lengthAdjust="spacingAndGlyphs" stroke="#089981" stroke-width="0.5">2,332.47</text>
<text x="588.52" y="30.9" font-family="Liberation Sans, Arial, sans-serif" font-size="24.5" fill="#0f0f0f" textLength="18.29" lengthAdjust="spacingAndGlyphs" stroke="#0f0f0f" stroke-width="0.5">H</text>
<text x="605.98" y="30.9" font-family="Liberation Sans, Arial, sans-serif" font-size="24.5" fill="#089981" textLength="100.34" lengthAdjust="spacingAndGlyphs" stroke="#089981" stroke-width="0.5">2,332.90</text>
<text x="721.0" y="30.9" font-family="Liberation Sans, Arial, sans-serif" font-size="24.5" fill="#0f0f0f" textLength="12.49" lengthAdjust="spacingAndGlyphs" stroke="#0f0f0f" stroke-width="0.5">L</text>
<text x="734.4" y="30.9" font-family="Liberation Sans, Arial, sans-serif" font-size="24.5" fill="#089981" textLength="95.9" lengthAdjust="spacingAndGlyphs" stroke="#089981" stroke-width="0.5">2,332.31</text>
<text x="844.85" y="30.9" font-family="Liberation Sans, Arial, sans-serif" font-size="24.5" fill="#0f0f0f" textLength="17.31" lengthAdjust="spacingAndGlyphs" stroke="#0f0f0f" stroke-width="0.5">C</text>
<text x="862.56" y="30.9" font-family="Liberation Sans, Arial, sans-serif" font-size="24.5" fill="#089981" textLength="100.46" lengthAdjust="spacingAndGlyphs" stroke="#089981" stroke-width="0.5">2,332.60</text>
<text x="977.57" y="30.9" font-family="Liberation Sans, Arial, sans-serif" font-size="24.5" fill="#089981" textLength="168.96" lengthAdjust="spacingAndGlyphs" stroke="#089981" stroke-width="0.5">+0.12 (+0.01%)</text>
<g transform="translate(1909.9 1384)"><rect x="-35" y="-8" width="57.5" height="16" fill="#fff"/><path d="M-18.4 -6.5A19.5 19.5 0 1 1 -14 13.6" fill="none" stroke="#9C27B0" stroke-width="3.2"/><path d="M5.56 -10.9L7.06 -9.4L0.86 -1.07H8.77L-5.35 10.9L-6.85 9.63L0 1.07L-8.34 0.86Z" fill="#9C27B0"/><path d="M-20.90 -2.60C-19.20 3.50 -17.40 5.30 -11.30 7.00C-17.40 8.70 -19.20 10.50 -20.90 16.60C-22.60 10.50 -24.40 8.70 -30.50 7.00C-24.40 5.30 -22.60 3.50 -20.90 -2.60Z" stroke="#7C4DFF" stroke-width="0.8" stroke-linejoin="round" fill="#7C4DFF"/></g>
<g transform="translate(23.9 1502.33) scale(1.6667)" fill="#0f0f0f"><path d="M14 22H7V11H0V4h14v18zM28 22h-8l7.5-18h8L28 22z"/><circle cx="20" cy="8" r="4"/></g>
<text x="98" y="1539" font-family="Liberation Sans, Arial, sans-serif" font-size="43.5" font-weight="bold" fill="#0f0f0f" stroke="#0f0f0f" stroke-width="0.7" textLength="242" lengthAdjust="spacingAndGlyphs">TradingView</text>
</svg></body></html>
